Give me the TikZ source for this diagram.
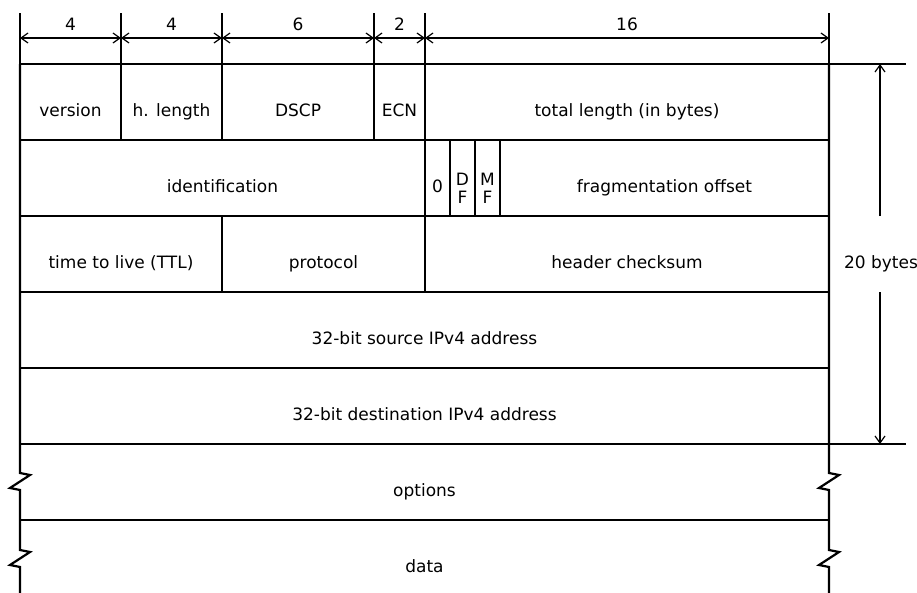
\documentclass[tikz,border=0pt]{standalone}
\usepackage{fontspec}
\setmainfont{DejaVu Sans}
\usetikzlibrary{arrows.meta}
\begin{document}
\begin{tikzpicture}[x=1pt,y=-1pt,
  font=\fontsize{17}{18}\selectfont,
  frame/.style={line width=2.2pt,line join=miter},
  dimline/.style={line width=1.2pt},
  dimarrow/.style={line width=1.2pt,{Straight Barb[length=7pt,width=10pt]}-{Straight Barb[length=7pt,width=10pt]}},
  onearrow/.style={line width=1.2pt,-{Straight Barb[length=7pt,width=10pt]}},
  lbl/.style={inner sep=0pt,anchor=base}]
\useasboundingbox (0,0) rectangle (917,592);

% column tick coordinates
\foreach \n/\x in {a/20,b/121,c/222,d/374,e/425,f/829}{
  \coordinate (t\n) at (\x,13);
  \coordinate (m\n) at (\x,38);
  \coordinate (g\n) at (\x,64);
  \draw[dimline] (t\n) -- (g\n);
}
\draw[dimarrow] (ma) -- (mb);
\draw[dimarrow] (mb) -- (mc);
\draw[dimarrow] (mc) -- (md);
\draw[dimarrow] (md) -- (me);
\draw[dimarrow] (me) -- (mf);
\node[lbl] (w1) at (70.5,30) {4};
\node[lbl] (w2) at (171.5,30) {4};
\node[lbl] (w3) at (298,30) {6};
\node[lbl] (w4) at (399.5,30) {2};
\node[lbl] (w5) at (627,30) {16};

% right dimension
\coordinate (rt) at (906,64);
\coordinate (rb) at (906,444);
\coordinate (at) at (880,64);
\coordinate (ab) at (880,444);
\coordinate (a1) at (880,216);
\coordinate (a2) at (880,292);
\draw[dimline] (gf) -- (rt);
\draw[dimline] (829,444) -- (rb);
\draw[onearrow] (a1) -- (at);
\draw[onearrow] (a2) -- (ab);
\node[lbl] (bytes) at (881,268) {20 bytes};

% frame
\draw[frame] (20,64) -- (829,64);
\foreach \y in {140,216,292,368,444,520}{
  \draw[frame] (20,\y) -- (829,\y);
}
\foreach \x in {20,829}{
  \draw[frame] (\x,64) -- (\x,473) -- (\x+10,475) -- (\x-10,488) -- (\x,490)
    -- (\x,550) -- (\x+10,552) -- (\x-10,565) -- (\x,567) -- (\x,594);
}
\foreach \x in {121,222,374,425}{\draw[frame] (\x,64) -- (\x,140);}
\foreach \x in {425,450,475,500}{\draw[frame] (\x,140) -- (\x,216);}
\foreach \x in {222,425}{\draw[frame] (\x,216) -- (\x,292);}

% field labels
\node[lbl] (version) at (70.5,116) {version};
\node[lbl] (hlen) at (171.5,116) {h. length};
\node[lbl] (dscp) at (298,116) {DSCP};
\node[lbl] (ecn) at (399.5,116) {ECN};
\node[lbl] (total) at (627,116) {total length (in bytes)};

\node[lbl] (ident) at (222.5,192) {identification};
\node[lbl] (zero) at (437.5,192) {0};
\node[lbl] (d1) at (462.5,185) {D};
\node[lbl] (f1) at (462.5,203) {F};
\node[lbl] (m2) at (487.5,185) {M};
\node[lbl] (f2) at (487.5,203) {F};
\node[lbl] (frag) at (664.5,192) {fragmentation offset};

\node[lbl] (ttl) at (121,268) {time to live (TTL)};
\node[lbl] (proto) at (323.5,268) {protocol};
\node[lbl] (cksum) at (627,268) {header checksum};

\node[lbl] (src) at (424.5,344) {32-bit source IPv4 address};
\node[lbl] (dst) at (424.5,420) {32-bit destination IPv4 address};
\node[lbl] (opt) at (424.5,496) {options};
\node[lbl] (data) at (424.5,572) {data};
\end{tikzpicture}
\end{document}
